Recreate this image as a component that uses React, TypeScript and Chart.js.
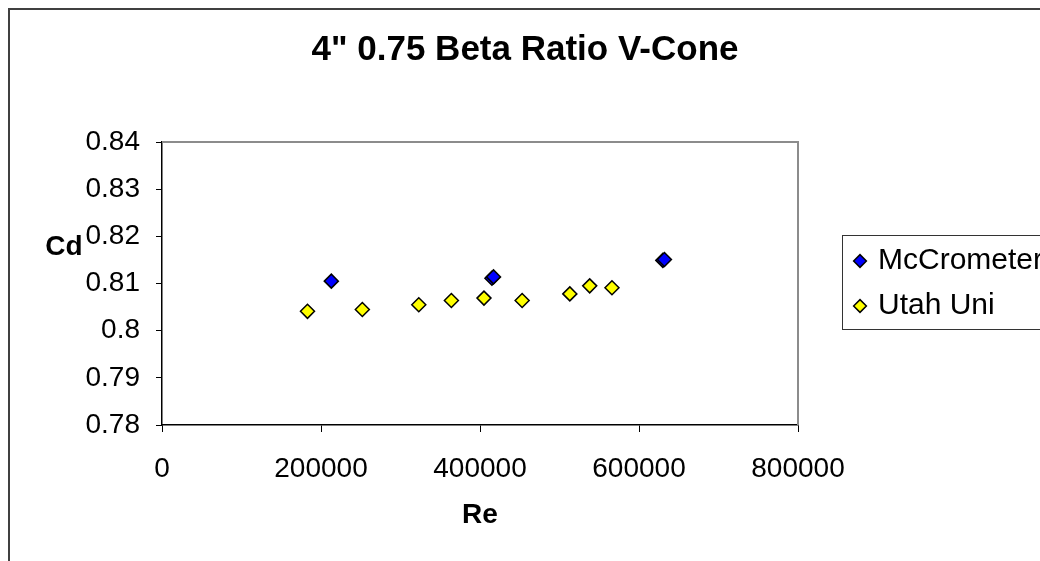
import React, { useEffect, useRef } from "react";
import { Chart, registerables } from "chart.js";

Chart.register(...registerables);

const TITLE = '4" 0.75 Beta Ratio V-Cone';
const X_TITLE = "Re";
const Y_TITLE = "Cd";

const mcSeriesName = "McCrometer";
const mcRe = [213000, 415000, 417000, 630000, 632000];
const mcCd = [0.8105, 0.8111, 0.8114, 0.8149, 0.8151];

const utahSeriesName = "Utah Uni";
const utahRe = [183000, 252000, 323000, 364000, 405000, 453000, 513000, 538000, 566000];
const utahCd = [0.8041, 0.8045, 0.8055, 0.8064, 0.8069, 0.8064, 0.8078, 0.8095, 0.8091];

const xMin = 0;
const xMax = 800000;
const xStep = 200000;
const yMin = 0.78;
const yMax = 0.84;
const yStep = 0.01;

const FONT = '"Liberation Sans", Arial, sans-serif';

const plotFramePlugin = {
  id: "plotFrame",
  beforeDatasetsDraw(chart: any) {
    const { ctx, chartArea } = chart;
    ctx.save();
    ctx.strokeStyle = "#8c8c8c";
    ctx.lineWidth = 2;
    ctx.beginPath();
    ctx.moveTo(chartArea.left, chartArea.top);
    ctx.lineTo(chartArea.right, chartArea.top);
    ctx.lineTo(chartArea.right, chartArea.bottom);
    ctx.stroke();
    ctx.restore();
  },
  afterDraw(chart: any) {
    const { ctx, chartArea } = chart;
    ctx.save();
    // horizontal y-axis title
    ctx.font = `bold 28px ${FONT}`;
    ctx.fillStyle = "#000";
    ctx.textAlign = "center";
    ctx.textBaseline = "middle";
    ctx.fillText(Y_TITLE, 54, chartArea.top + 105);
    // legend frame
    const lg = chart.legend;
    if (lg && lg.legendHitBoxes && lg.legendHitBoxes.length) {
      const hb = lg.legendHitBoxes;
      const first = hb[0];
      const last = hb[hb.length - 1];
      const top = Math.round(first.top + first.height / 2 - 26) + 0.5;
      const bottom = Math.round(last.top + last.height / 2 + 23) + 0.5;
      const left = Math.round(lg.left) + 0.5;
      ctx.strokeStyle = "#333";
      ctx.lineWidth = 1;
      ctx.strokeRect(left, top, 400, bottom - top);
    }
    ctx.restore();
  },
};

export default function App() {
  const canvasRef = useRef<HTMLCanvasElement | null>(null);

  useEffect(() => {
    document.documentElement.style.overflow = "hidden";
    document.body.style.marginRight = "0px";
    document.body.style.marginBottom = "0px";
    const canvas = canvasRef.current;
    if (!canvas) return;
    const chart = new Chart(canvas, {
      type: "scatter",
      data: {
        datasets: [
          {
            label: mcSeriesName,
            data: mcRe.map((x, i) => ({ x, y: mcCd[i] })),
            pointStyle: "rectRot",
            pointRadius: 7,
            pointHoverRadius: 7,
            backgroundColor: "#0000ff",
            borderColor: "#000",
            borderWidth: 1.5,
            yAxisID: "y",
          },
          {
            label: utahSeriesName,
            data: utahRe.map((x, i) => ({ x, y: utahCd[i] })),
            pointStyle: "rectRot",
            pointRadius: 7,
            pointHoverRadius: 7,
            backgroundColor: "#ffff00",
            borderColor: "#000",
            borderWidth: 1.5,
            yAxisID: "y",
          },
        ],
      },
      options: {
        animation: false,
        responsive: false,
        maintainAspectRatio: false,
        devicePixelRatio: 1,
        layout: { padding: 0 },
        plugins: {
          title: {
            display: true,
            text: TITLE,
            color: "#000",
            font: { family: FONT, size: 35, weight: "bold" },
            padding: { top: 19, bottom: 71 },
          },
          legend: {
            display: true,
            position: "right",
            fullSize: false,
            align: "center",
            maxWidth: 198,
            labels: {
              usePointStyle: true,
              boxWidth: 6,
              boxHeight: 9,
              padding: 15,
              color: "#000",
              font: { family: FONT, size: 30 },
            },
          },
          tooltip: { enabled: false },
        },
        scales: {
          x: {
            type: "linear",
            position: "bottom",
            min: xMin,
            max: xMax,
            afterFit: (s: any) => {
              s.height = 136;
            },
            ticks: {
              stepSize: xStep,
              color: "#000",
              padding: 20,
              maxRotation: 0,
              font: { family: FONT, size: 28 },
              callback: (v: any) => String(v),
            },
            grid: {
              display: true,
              drawOnChartArea: false,
              drawTicks: true,
              tickLength: 7,
              color: "#000",
            },
            border: { display: true, color: "#000", width: 1.5 },
            title: {
              display: true,
              text: X_TITLE,
              color: "#000",
              font: { family: FONT, size: 28, weight: "bold" },
              padding: { top: 0, bottom: 29 },
            },
          },
          y: {
            type: "linear",
            position: "left",
            min: yMin,
            max: yMax,
            afterFit: (s: any) => {
              s.width = 152;
            },
            ticks: {
              stepSize: yStep,
              color: "#000",
              padding: 16,
              font: { family: FONT, size: 28 },
              callback: (v: any) => String(Number(Number(v).toFixed(2))),
            },
            grid: {
              display: true,
              drawOnChartArea: false,
              drawTicks: true,
              tickLength: 6,
              color: "#000",
            },
            border: { display: true, color: "#000", width: 1.5 },
          },
          spacer: {
            type: "linear",
            position: "right",
            display: true,
            afterFit: (s: any) => {
              s.width = 44;
            },
            ticks: { display: false },
            grid: { display: false, drawTicks: false },
            border: { display: false },
          },
        },
      },
      plugins: [plotFramePlugin],
    });
    return () => chart.destroy();
  }, []);

  return (
    <div
      style={{
        borderLeft: "2px solid #404040",
        borderTop: "2px solid #404040",
        width: 1030,
        height: 551,
        overflow: "hidden",
        background: "#fff",
      }}
    >
      <canvas
        ref={canvasRef}
        width={1030}
        height={551}
        style={{ display: "block", width: 1030, height: 551 }}
      />
    </div>
  );
}
